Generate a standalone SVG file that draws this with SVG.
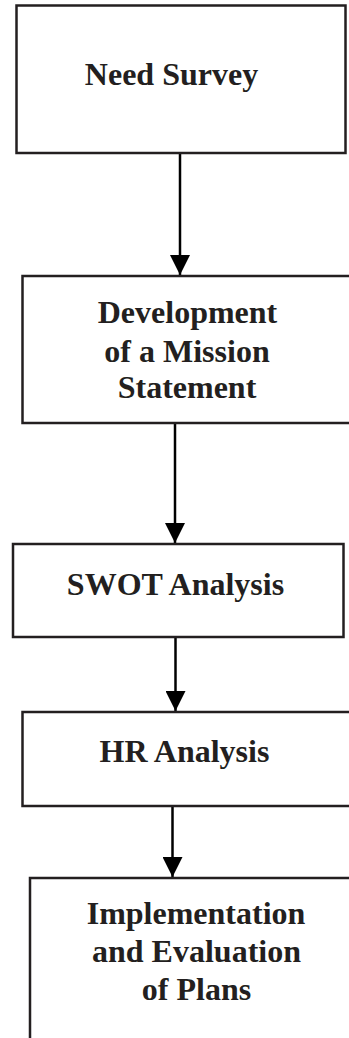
<svg xmlns="http://www.w3.org/2000/svg" width="349" height="1038" viewBox="0 0 349 1038">
<style>
.box{fill:#fff;stroke:#231f20;stroke-width:2.5}
.lbl{font-family:"Liberation Serif","Times New Roman",serif;font-weight:bold;font-size:32px;fill:#231f20;text-anchor:middle}
.con{stroke:#000;stroke-width:2.5;fill:none}
</style>
<defs>
<marker id="ah" markerUnits="userSpaceOnUse" markerWidth="20" markerHeight="20" refX="18" refY="9" orient="auto" viewBox="0 0 18 18">
<path d="M0,0 L18,9 L0,18 Z" fill="#000"/>
</marker>
</defs>
<rect width="349" height="1038" fill="#fff"/>
<g id="connectors">
<line class="con" x1="180" y1="153" x2="180" y2="275" marker-end="url(#ah)"/>
<line class="con" x1="175" y1="423" x2="175" y2="543" marker-end="url(#ah)"/>
<line class="con" x1="175.5" y1="637" x2="175.5" y2="711" marker-end="url(#ah)"/>
<line class="con" x1="172.5" y1="806" x2="172.5" y2="877" marker-end="url(#ah)"/>
</g>
<g id="need-survey">
<rect class="box" x="16.5" y="5.5" width="329" height="147.5"/>
<text class="lbl" x="171.5" y="85">Need Survey</text>
</g>
<g id="mission-statement">
<rect class="box" x="22.5" y="276" width="340" height="147"/>
<text class="lbl" x="187.5" y="323">Development</text>
<text class="lbl" x="187" y="362">of a Mission</text>
<text class="lbl" x="187" y="398">Statement</text>
</g>
<g id="swot">
<rect class="box" x="13" y="544" width="330.5" height="93"/>
<text class="lbl" x="175.5" y="595">SWOT Analysis</text>
</g>
<g id="hr">
<rect class="box" x="22.5" y="712" width="340" height="94"/>
<text class="lbl" x="184.5" y="761.5">HR Analysis</text>
</g>
<g id="implementation">
<rect class="box" x="30" y="878" width="340" height="180"/>
<text class="lbl" x="196" y="924">Implementation</text>
<text class="lbl" x="196.5" y="962">and Evaluation</text>
<text class="lbl" x="196.5" y="999.5">of Plans</text>
</g>
</svg>
